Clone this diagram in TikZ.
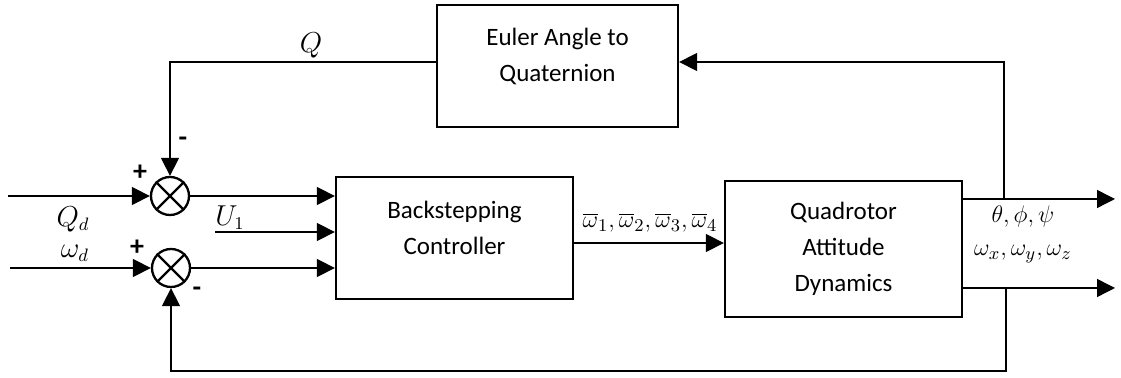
\documentclass[tikz,border=0pt]{standalone}
\usepackage{fontspec}
\setmainfont{Carlito}
\usetikzlibrary{arrows.meta}
\begin{document}
\begin{tikzpicture}[x=0.5pt,y=-0.5pt,
  line width=0.7pt,
  font=\fontsize{12.5pt}{18pt}\selectfont,
  box/.style={draw,line width=1.15pt,inner sep=0pt},
  sumj/.style={draw,circle,line width=1.15pt,minimum size=19pt,inner sep=0pt},
  arr/.style={-{Triangle[length=9pt,width=9pt]}},
  txt/.style={inner sep=0pt,align=center},
  mlab/.style={inner sep=0pt,font=\fontsize{13.3pt}{16pt}\selectfont},
  slab/.style={inner sep=0pt,font=\fontsize{12.4pt}{15pt}\selectfont},
  sgn/.style={inner sep=0pt,font=\fontsize{14pt}{16pt}\selectfont\bfseries}
]
\useasboundingbox (0,0) rectangle (1121,378);

% blocks
\node[box,minimum width=120.5pt,minimum height=61pt] (eu) at (557.5,66) {};
\node[txt] (eut) at (557.5,56) {Euler Angle to\\Quaternion};
\node[box,minimum width=118.5pt,minimum height=61pt] (bs) at (454.5,238) {};
\node[txt] (bst) at (454.5,228) {Backstepping\\Controller};
\node[box,minimum width=118.5pt,minimum height=68pt] (qa) at (843.5,249) {};
\node[txt] (qat) at (843.5,249) {Quadrotor\\Attitude\\Dynamics};

% summing junctions
\node[sumj] (s1) at (170,196) {};
\draw[line width=1.15pt] (s1.north east) -- (s1.south west) (s1.north west) -- (s1.south east);
\node[sumj] (s2) at (171,268) {};
\draw[line width=1.15pt] (s2.north east) -- (s2.south west) (s2.north west) -- (s2.south east);

% coordinates
\coordinate (in1) at (8,196);
\coordinate (in2) at (10,268);
\coordinate (u1) at (215,232);
\coordinate (b1) at (1004,199);
\coordinate (b2) at (1006,288);
\coordinate (o1) at (1115,199);
\coordinate (o2) at (1115,288);

% connectors
\draw[arr] (in1) -- (s1.west);
\draw[arr] (in2) -- (s2.west);
\draw[arr] (s1.east) -- (bs.west |- s1);
\draw[arr] (s2.east) -- (bs.west |- s2);
\draw[arr] (u1) -- (bs.west |- u1);
\draw[arr] (bs.east |- 0,243) -- (qa.west |- 0,243);
\draw[arr] (qa.east |- o1) -- (o1);
\draw[arr] (qa.east |- o2) -- (o2);
\draw[arr] (b1) |- ([yshift=2pt]eu.east);
\draw[arr] ([yshift=2pt]eu.west) -| (s1.north);
\draw[arr] (b2) -- ++(0,83) -| (s2.south);

% labels
\node[mlab] (lq) at (311,45) {$Q$};
\node[mlab] (lqd) at (73,219) {$Q_d$};
\node[mlab] (lwd) at (75,253) {$\omega_d$};
\node[mlab] (lu1) at (230,218) {$U_1$};
\node[slab] (lw) at (650,223) {$\overline{\omega}_1,\overline{\omega}_2,\overline{\omega}_3,\overline{\omega}_4$};
\node[slab] (lang) at (1023,217) {$\theta,\phi,\psi$};
\node[slab] (lrate) at (1023,254) {$\omega_x,\omega_y,\omega_z$};

% signs
\node[sgn] (p1) at (140,173) {+};
\node[sgn] (p2) at (137,248) {+};
\node[sgn] (m1) at (183,142) {-};
\node[sgn] (m2) at (197,292) {-};
\end{tikzpicture}
\end{document}
